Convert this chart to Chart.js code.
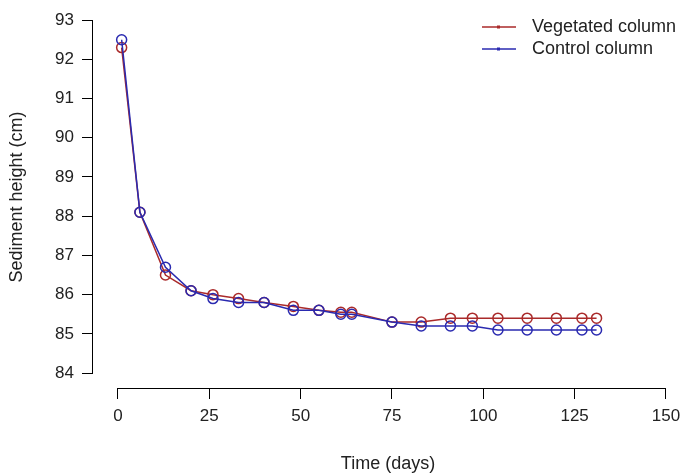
<!DOCTYPE html>
<html>
<head>
<meta charset="utf-8">
<script src="https://cdn.jsdelivr.net/npm/chart.js@4/dist/chart.umd.min.js"></script>
<style>
  html, body { margin: 0; padding: 0; background: #fff; }
  #wrap { width: 683px; height: 473px; }
</style>
</head>
<body>
<div id="wrap"><canvas id="chart" width="683" height="473"></canvas></div>
<script>
const days = [1, 6, 13, 20, 26, 33, 40, 48, 55, 61, 64, 75, 83, 91, 97, 104, 112, 120, 127, 131];
const vegetated = [92.3, 88.1, 86.5, 86.1, 86.0, 85.9, 85.8, 85.7, 85.6, 85.55, 85.55, 85.3, 85.3, 85.4, 85.4, 85.4, 85.4, 85.4, 85.4, 85.4];
const control = [92.5, 88.1, 86.7, 86.1, 85.9, 85.8, 85.8, 85.6, 85.6, 85.5, 85.5, 85.3, 85.2, 85.2, 85.2, 85.1, 85.1, 85.1, 85.1, 85.1];
const xTicks = [0, 25, 50, 75, 100, 125, 150];
const yTicks = [84, 85, 86, 87, 88, 89, 90, 91, 92, 93];
const seriesNames = ["Vegetated column", "Control column"];

const red = "#aa2a2a";
const blue = "#2a2ab0";
const font = "'Liberation Sans', Arial, sans-serif";

function toPoints(xs, ys) {
  return xs.map((x, i) => ({ x: x, y: ys[i] }));
}

// R style detached axis lines, spanning only first..last tick
const axisLines = {
  id: "axisLines",
  afterDraw(chart) {
    const ctx = chart.ctx;
    const x = chart.scales.x;
    const y = chart.scales.y;
    const area = chart.chartArea;
    ctx.save();
    ctx.strokeStyle = "#000";
    ctx.lineWidth = 1;
    ctx.beginPath();
    ctx.moveTo(x.getPixelForValue(xTicks[0]), area.bottom + 0.5);
    ctx.lineTo(x.getPixelForValue(xTicks[xTicks.length - 1]), area.bottom + 0.5);
    ctx.moveTo(area.left - 0.5, y.getPixelForValue(yTicks[0]));
    ctx.lineTo(area.left - 0.5, y.getPixelForValue(yTicks[yTicks.length - 1]));
    ctx.stroke();
    ctx.restore();
  }
};

// legend drawn inside the plot, top right
const insideLegend = {
  id: "insideLegend",
  afterDraw(chart) {
    const ctx = chart.ctx;
    const sets = chart.data.datasets;
    ctx.save();
    ctx.font = "18px " + font;
    ctx.textBaseline = "middle";
    const rows = [27, 49];
    sets.forEach((ds, i) => {
      const yy = rows[i];
      ctx.strokeStyle = ds.borderColor;
      ctx.lineWidth = 1.5;
      ctx.beginPath();
      ctx.moveTo(482, yy);
      ctx.lineTo(516, yy);
      ctx.stroke();
      ctx.fillStyle = ds.borderColor;
      ctx.fillRect(497, yy - 1.5, 3, 3);
      ctx.fillStyle = "#222";
      ctx.fillText(ds.label, 532, yy);
    });
    ctx.restore();
  }
};

new Chart(document.getElementById("chart"), {
  type: "scatter",
  data: {
    datasets: [
      {
        label: seriesNames[0],
        data: toPoints(days, vegetated),
        borderColor: red,
        backgroundColor: "rgba(0,0,0,0)",
        showLine: true,
        borderWidth: 1.5,
        pointRadius: 5,
        pointBorderWidth: 1.5,
        order: 2
      },
      {
        label: seriesNames[1],
        data: toPoints(days, control),
        borderColor: blue,
        backgroundColor: "rgba(0,0,0,0)",
        showLine: true,
        borderWidth: 1.5,
        pointRadius: 5,
        pointBorderWidth: 1.5,
        order: 1
      }
    ]
  },
  options: {
    responsive: false,
    animation: false,
    layout: { autoPadding: false, padding: { top: 6, right: 0, left: 0, bottom: 0 } },
    plugins: {
      legend: { display: false },
      tooltip: { enabled: false }
    },
    scales: {
      x: {
        type: "linear",
        min: -6.84,
        max: 154.66,
        afterBuildTicks(scale) {
          scale.ticks = xTicks.map((v) => ({ value: v }));
        },
        afterFit(scale) {
          scale.height = 85;
          scale.paddingLeft = 0;
          scale.paddingRight = 0;
        },
        border: { display: false },
        grid: { drawOnChartArea: false, drawTicks: true, tickLength: 11, color: "#000" },
        ticks: { color: "#222", font: { family: font, size: 17 }, padding: 7, maxRotation: 0 },
        title: {
          display: true,
          text: "Time (days)",
          color: "#222",
          font: { family: font, size: 18 },
          padding: { top: 0, bottom: -2 }
        }
      },
      y: {
        type: "linear",
        min: 83.62,
        max: 93.36,
        afterBuildTicks(scale) {
          scale.ticks = yTicks.map((v) => ({ value: v }));
        },
        afterFit(scale) {
          scale.width = 93;
          scale.paddingTop = 0;
          scale.paddingBottom = 0;
        },
        border: { display: false },
        grid: { drawOnChartArea: false, drawTicks: true, tickLength: 11, color: "#000" },
        ticks: { color: "#222", font: { family: font, size: 17 }, padding: 8 },
        title: {
          display: true,
          text: "Sediment height (cm)",
          color: "#222",
          font: { family: font, size: 18 },
          padding: { top: 6, bottom: 0 }
        }
      }
    }
  },
  plugins: [axisLines, insideLegend]
});
</script>
</body>
</html>
